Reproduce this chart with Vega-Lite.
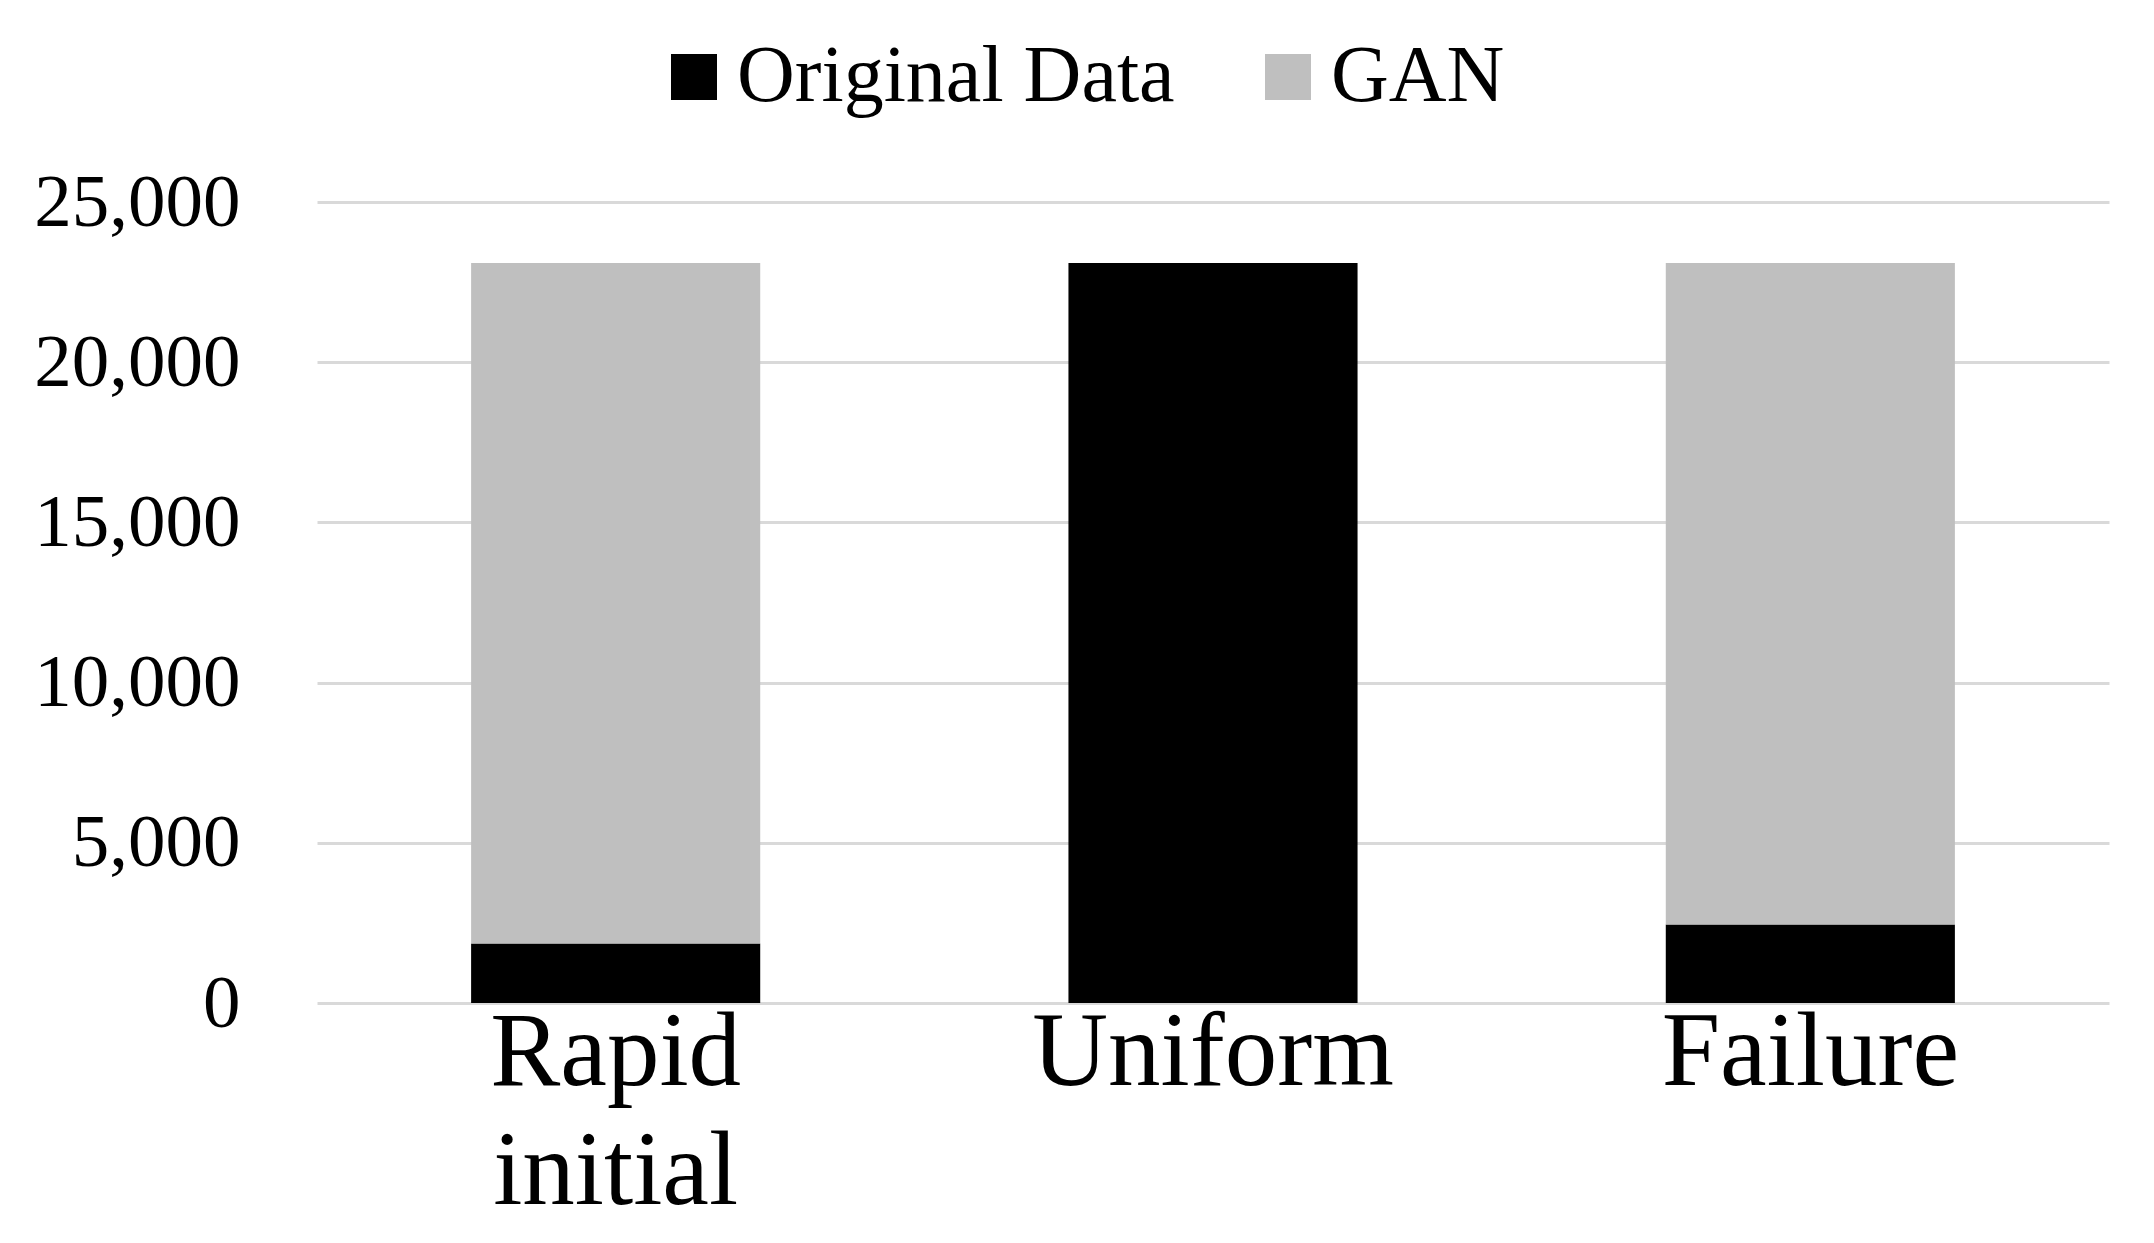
{
  "$schema": "https://vega.github.io/schema/vega-lite/v6.json",
  "autosize": {"type": "none"},
  "padding": {"left": 317, "top": 202, "right": 45, "bottom": 240},
  "width": 1792,
  "height": 801,
  "background": "white",
  "data": {
    "values": [
      {"category": "Rapid initial", "series": "Original Data", "count": 1860},
      {"category": "Rapid initial", "series": "GAN", "count": 21240},
      {"category": "Uniform", "series": "Original Data", "count": 23100},
      {"category": "Uniform", "series": "GAN", "count": 0},
      {"category": "Failure", "series": "Original Data", "count": 2450},
      {"category": "Failure", "series": "GAN", "count": 20650}
    ]
  },
  "mark": {"type": "bar"},
  "encoding": {
    "x": {
      "field": "category",
      "type": "nominal",
      "sort": ["Rapid initial", "Uniform", "Failure"],
      "scale": {"paddingInner": 0.516, "paddingOuter": 0.258},
      "axis": {
        "title": null,
        "labelAngle": 0,
        "ticks": false,
        "domain": false,
        "labelPadding": -2,
        "labelFont": "Liberation Serif",
        "labelFontSize": 105,
        "labelColor": "#000000",
        "labelLineHeight": 119,
        "labelBaseline": "top",
        "labelLimit": 1000,
        "labelExpr": "datum.value == 'Rapid initial' ? ['Rapid', 'initial'] : datum.value"
      }
    },
    "y": {
      "field": "count",
      "type": "quantitative",
      "stack": "zero",
      "scale": {"domain": [0, 25000], "nice": false},
      "axis": {
        "title": null,
        "values": [0, 5000, 10000, 15000, 20000, 25000],
        "format": ",d",
        "ticks": false,
        "domain": false,
        "labelPadding": 77,
        "labelLimit": 1000,
        "labelFont": "Liberation Serif",
        "labelFontSize": 75,
        "labelColor": "#000000",
        "gridColor": "#d9d9d9",
        "gridWidth": 3
      }
    },
    "color": {
      "field": "series",
      "type": "nominal",
      "scale": {"domain": ["Original Data", "GAN"], "range": ["#000000", "#bfbfbf"]},
      "legend": {
        "title": null,
        "orient": "none",
        "direction": "horizontal",
        "legendX": 337,
        "legendY": -165,
        "symbolType": "square",
        "symbolSize": 2116,
        "symbolStrokeWidth": 0,
        "labelFont": "Liberation Serif",
        "labelFontSize": 80,
        "labelColor": "#000000",
        "labelOffset": 3,
        "columnPadding": 73,
        "labelLimit": 1000
      }
    }
  },
  "config": {
    "view": {"stroke": null}
  }
}
